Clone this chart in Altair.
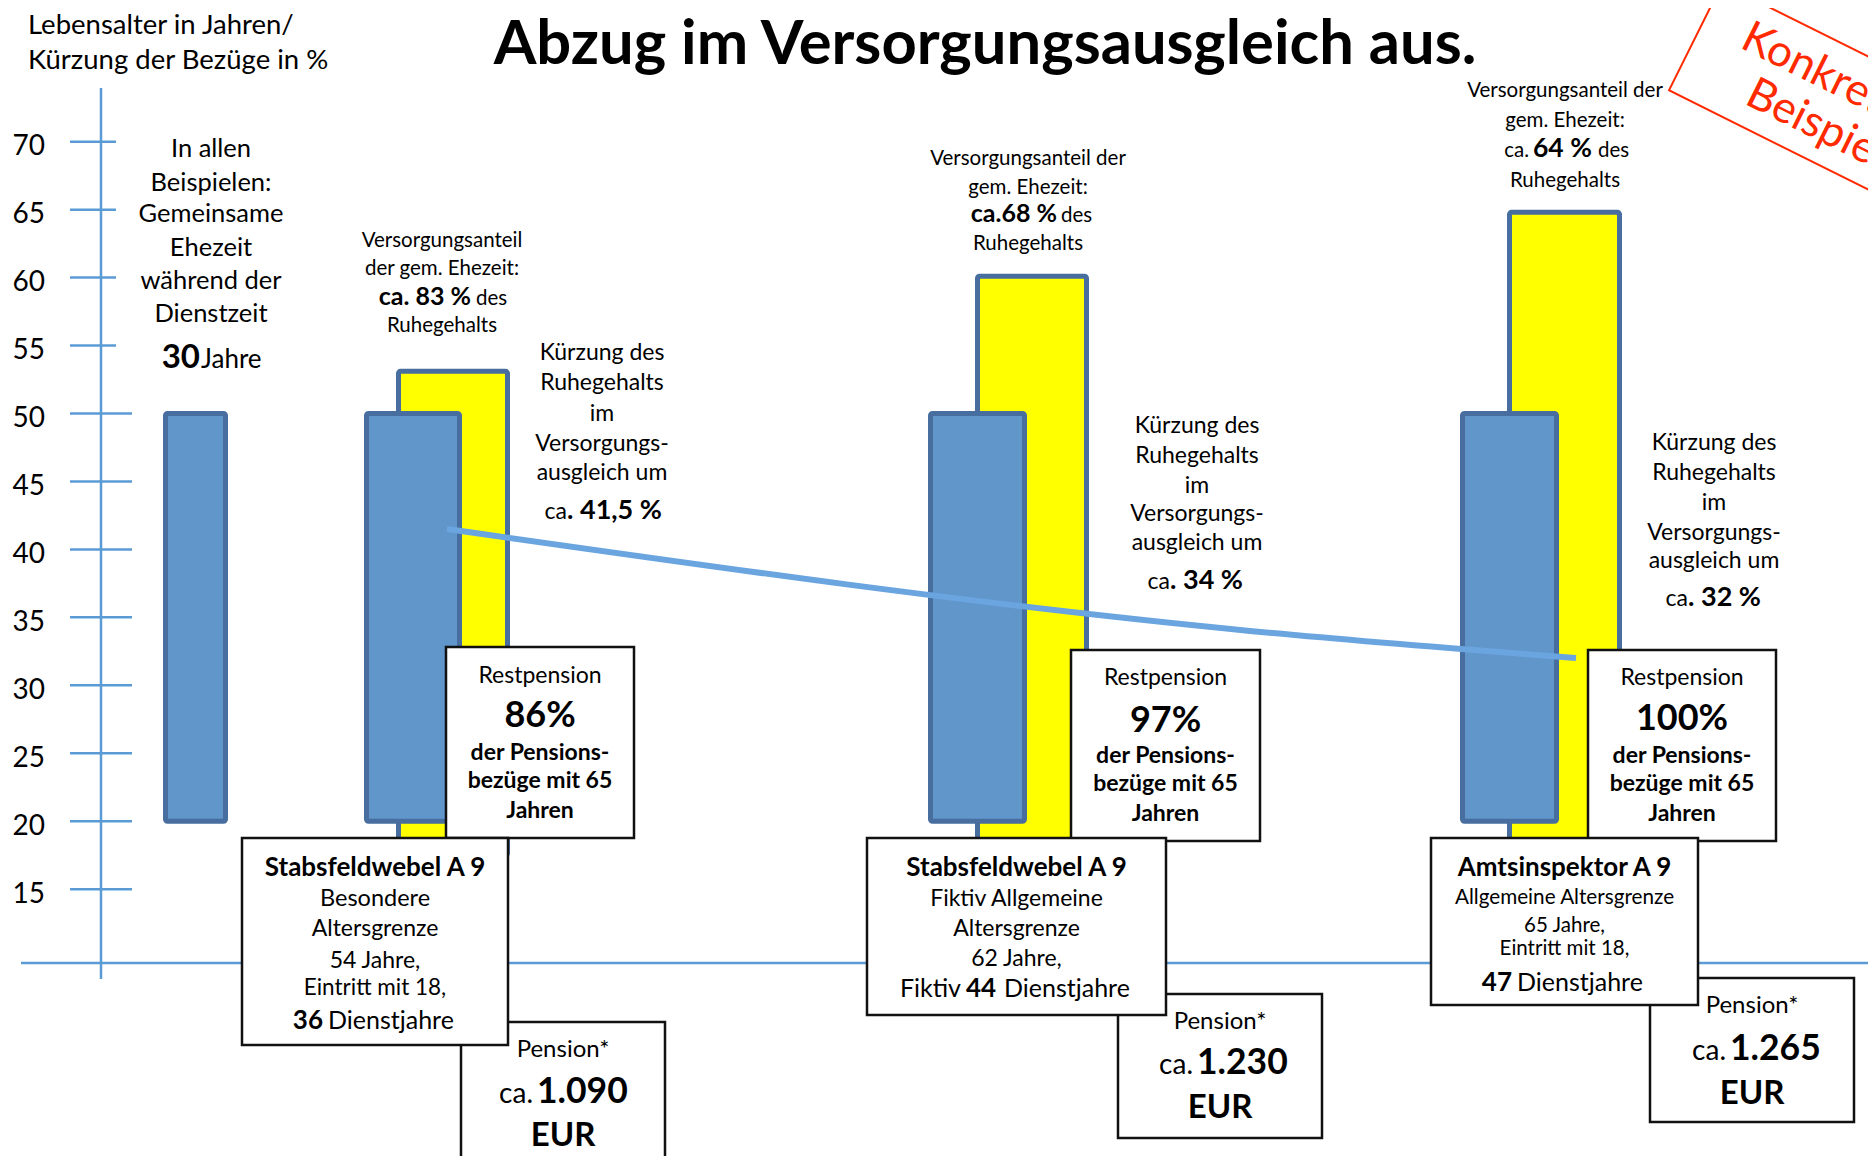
import altair as alt
import pandas as pd

# ---------------- values ----------------
y_ticks = [15, 20, 25, 30, 35, 40, 45, 50, 55, 60, 65, 70]
ehezeit_von, ehezeit_bis = 20, 50          # gemeinsame Ehezeit (Lebensalter)
ehezeit_jahre = 30
dienstzeit_oben = [53.1, 60.1, 64.8]       # top of yellow bars as drawn
titel = ["Stabsfeldwebel A 9", "Stabsfeldwebel A 9", "Amtsinspektor A 9"]
altersgrenze = [54, 62, 65]
eintritt = 18
dienstjahre = [36, 44, 47]
versorgungsanteil = [83, 68, 64]
kuerzung = [41.5, 34, 32]
restpension = [86, 97, 100]
pension_eur = [1090, 1230, 1265]

# ---------------- layout (reference pixel positions) ----------------
W, H, PAGE = 1860, 1148, 8
Y70, PX_PER_YEAR = 141.7, 13.59


def yv(ref_y):
    return 70 - (ref_y - Y70) / PX_PER_YEAR


xs = alt.Scale(domain=[PAGE, PAGE + W], nice=False, zero=False)
ys = alt.Scale(domain=[yv(PAGE + H), yv(PAGE)], nice=False, zero=False)

FONT = "Lato"
BLUE_FILL = "#6096CA"
BLUE_EDGE = "#476E9E"
AXIS_BLUE = "#5B9BD5"
LINE_BLUE = "#6AA5E0"
RED = "#FF2A00"

yaxis = alt.Axis(values=y_ticks, domain=False, ticks=False, tickSize=0, grid=False,
                 labelFont=FONT, labelFontSize=28, labelColor="black", labelAlign="left",
                 labelBaseline="middle", labelPadding=16, offset=-20, labelOffset=5, title=None)

X = alt.X("x:Q", scale=xs, axis=None)
Y = alt.Y("y:Q", scale=ys, axis=yaxis)

blue_x = [(165.5, 225.5), (366.5, 459.5), (930.5, 1024.5), (1462.5, 1556.5)]
yellow_x = [(398.5, 507.5), (977.5, 1086.5), (1509.5, 1619.5)]
yellow_bottom = 17.5
line_x = [447, 1250, 1576]

# ---------------- frames ----------------
blue_df = pd.DataFrame({"x": [a for a, b in blue_x], "x2": [b for a, b in blue_x],
                        "y": [ehezeit_bis] * 4, "y2": [ehezeit_von] * 4})
yellow_df = pd.DataFrame({"x": [a for a, b in yellow_x], "x2": [b for a, b in yellow_x],
                          "y": dienstzeit_oben, "y2": [yellow_bottom] * 3})
line_df = pd.DataFrame({"x": line_x, "y": kuerzung})

tick_df = pd.DataFrame({"y": y_ticks, "x": [70] * len(y_ticks),
                        "x2": [116 if v >= 55 else 132 for v in y_ticks]})
axis_df = pd.DataFrame({"x": [101], "y": [yv(88)], "y2": [yv(979)]})
base_df = pd.DataFrame({"x": [21], "x2": [PAGE + W], "y": [yv(963)]})

pension_box = [(461, 665, 1022, 1180), (1118, 1322, 994, 1138), (1650, 1854, 978, 1122)]
rest_box = [(446, 634, 647, 838), (1071, 1260, 650, 841), (1588, 1776, 650, 841)]
desc_box = [(242, 508, 838, 1045), (867, 1166, 838, 1015), (1431, 1698, 838, 1005)]


def box_df(boxes):
    return pd.DataFrame({"x": [b[0] for b in boxes], "x2": [b[1] for b in boxes],
                         "y": [yv(b[2]) for b in boxes], "y2": [yv(b[3]) for b in boxes]})


items = []


def T(x, yc, text, size, bold=False, align="center", lsize=None):
    ls = lsize or size
    items.append(dict(x=x, y=yv(yc + 0.34 * ls), text=text, size=size, bold=bold, halign=align))


# title and axis title
T(985, 43, "Abzug im Versorgungsausgleich aus.", 61.5, bold=True)
T(28, 25, "Lebensalter in Jahren/", 27.5, align="left")
T(28, 60, "Kürzung der Bezüge in %", 27.5, align="left")

# common block
for t, yy in zip(["In allen", "Beispielen:", "Gemeinsame", "Ehezeit", "während der", "Dienstzeit"],
                 [148, 182, 213, 247, 280, 313]):
    T(211, yy, t, 25.5)
T(200, 358, str(ehezeit_jahre), 33, bold=True, align="right", lsize=28)
T(201, 358, "Jahre", 26, align="left", lsize=28)


def de(v):
    return f"{v:g}".replace(".", ",")


# top annotations
A = 20.5
T(442, 240, "Versorgungsanteil", A)
T(442, 268, "der gem. Ehezeit:", A)
T(471, 298, f"ca. {versorgungsanteil[0]} %", 25, bold=True, align="right", lsize=22)
T(476, 298, "des", A, align="left", lsize=22)
T(442, 325, "Ruhegehalts", A)

T(1028, 158, "Versorgungsanteil der", A)
T(1028, 187, "gem. Ehezeit:", A)
T(1057, 215, f"ca.{versorgungsanteil[1]} %", 25, bold=True, align="right", lsize=22)
T(1061, 215, "des", A, align="left", lsize=22)
T(1028, 243, "Ruhegehalts", A)

T(1565, 90, "Versorgungsanteil der", A)
T(1565, 120, "gem. Ehezeit:", A)
T(1529, 150, "ca.", A, align="right", lsize=22)
T(1533, 150, f"{versorgungsanteil[2]} %", 26.5, bold=True, align="left", lsize=22)
T(1598, 150, "des", A, align="left", lsize=22)
T(1565, 180, "Ruhegehalts", A)

# Kürzung blocks
k_cx = [602, 1197, 1714]
k_y = [[352, 382, 413, 443, 472, 510], [425, 455, 485, 513, 542, 580], [442, 472, 502, 532, 560, 597]]
k_split = [567, 1170, 1688]
for i in range(3):
    for t, yy in zip(["Kürzung des", "Ruhegehalts", "im", "Versorgungs-", "ausgleich um"], k_y[i][:5]):
        T(k_cx[i], yy, t, 23)
    T(k_split[i], k_y[i][5], "ca", 23, align="right", lsize=26)
    T(k_split[i], k_y[i][5], f". {de(kuerzung[i])} %", 27, bold=True, align="left", lsize=26)

# Restpension boxes
r_cx = [540, 1165.5, 1682]
r_y = [[675, 715, 752, 780, 810], [677, 720, 755, 783, 813], [677, 718, 755, 783, 813]]
for i in range(3):
    T(r_cx[i], r_y[i][0], "Restpension", 23)
    T(r_cx[i], r_y[i][1], f"{restpension[i]}%", 36, bold=True)
    T(r_cx[i], r_y[i][2], "der Pensions-", 23, bold=True)
    T(r_cx[i], r_y[i][3], "bezüge mit 65", 23, bold=True)
    T(r_cx[i], r_y[i][4], "Jahren", 23, bold=True)

# description boxes
T(375, 867, titel[0], 26, bold=True)
T(375, 898, "Besondere", 23.5)
T(375, 928, "Altersgrenze", 23)
T(375, 960, f"{altersgrenze[0]} Jahre,", 23)
T(375, 987, f"Eintritt mit {eintritt},", 22.5)
T(323, 1020, str(dienstjahre[0]), 26, bold=True, align="right", lsize=25)
T(328, 1020, "Dienstjahre", 25, align="left", lsize=25)

T(1016.5, 867, titel[1], 26, bold=True)
T(1016.5, 898, "Fiktiv Allgemeine", 23)
T(1016.5, 928, "Altersgrenze", 23)
T(1016.5, 958, f"{altersgrenze[1]} Jahre,", 23)
T(961, 988, "Fiktiv", 25, align="right", lsize=25)
T(966, 988, str(dienstjahre[1]), 26, bold=True, align="left", lsize=25)
T(1004, 988, "Dienstjahre", 25, align="left", lsize=25)

T(1564.5, 867, titel[2], 26, bold=True)
T(1564.5, 897, "Allgemeine Altersgrenze", 20.7)
T(1564.5, 925, f"{altersgrenze[2]} Jahre,", 20.5)
T(1564.5, 948, f"Eintritt mit {eintritt},", 20.5)
T(1512, 982, str(dienstjahre[2]), 26, bold=True, align="right", lsize=25)
T(1517, 982, "Dienstjahre", 25, align="left", lsize=25)

# pension boxes
p_cx = [563, 1220, 1752]
p_y = [[1049, 1092, 1135], [1021, 1063, 1107], [1005, 1049, 1093]]
p_split = [535, 1195, 1728]
for i in range(3):
    T(p_cx[i], p_y[i][0], "Pension*", 24)
    T(p_split[i] - 2, p_y[i][1], "ca.", 28, align="right", lsize=31)
    T(p_split[i] + 2, p_y[i][1], f"{pension_eur[i]:,}".replace(",", "."), 35.5, bold=True,
      align="left", lsize=31)
    T(p_cx[i], p_y[i][2], "EUR", 33, bold=True)

text_df = pd.DataFrame(items)

stamp_df = pd.DataFrame({"x": [1824], "y": [yv(101)]})
stamp_text_df = pd.DataFrame({"x": [1832, 1816], "y": [yv(79), yv(125)],
                              "text": ["Konkretes", "Beispiel"]})

# ---------------- layers ----------------
base = alt.Chart(base_df).mark_rule(color=AXIS_BLUE, strokeWidth=2.5).encode(
    x=X, x2="x2:Q", y=Y)
axis_line = alt.Chart(axis_df).mark_rule(color=AXIS_BLUE, strokeWidth=2.5).encode(
    x=X, y=Y, y2="y2:Q")
ticks = alt.Chart(tick_df).mark_rule(color=AXIS_BLUE, strokeWidth=2.5).encode(
    x=X, x2="x2:Q", y=Y)

yellow = alt.Chart(yellow_df).mark_rect(fill="#FFFF00", stroke=BLUE_EDGE, strokeWidth=5,
                                        cornerRadius=2).encode(x=X, x2="x2:Q", y=Y, y2="y2:Q")
blue = alt.Chart(blue_df).mark_rect(fill=BLUE_FILL, stroke=BLUE_EDGE, strokeWidth=5,
                                    cornerRadius=2).encode(x=X, x2="x2:Q", y=Y, y2="y2:Q")
trend = alt.Chart(line_df).mark_line(color=LINE_BLUE, strokeWidth=6, interpolate="monotone",
                                     strokeCap="butt").encode(x=X, y=Y)


def boxes(df):
    return alt.Chart(df).mark_rect(fill="white", stroke="#111111", strokeWidth=2.5).encode(
        x=X, x2="x2:Q", y=Y, y2="y2:Q")


def text_layer(bold, align):
    sub = text_df[(text_df["bold"] == bold) & (text_df["halign"] == align)]
    sub = sub[["x", "y", "text", "size"]].reset_index(drop=True)
    return alt.Chart(sub).mark_text(font=FONT, fontWeight="bold" if bold else "normal",
                                    align=align, baseline="alphabetic", color="black").encode(
        x=X, y=Y, text="text:N", size=alt.Size("size:Q", scale=None, legend=None))


texts = [text_layer(b, a) for b in (False, True) for a in ("left", "center", "right")]

stamp_box = alt.Chart(stamp_df).mark_point(
    shape="M-1,-0.4146L1,-0.4146L1,0.4146L-1,0.4146Z", size=287 * 287, angle=26.5,
    filled=False, stroke=RED, strokeWidth=2, opacity=1).encode(x=X, y=Y)
stamp_text = alt.Chart(stamp_text_df).mark_text(
    font=FONT, fontSize=44, color=RED, angle=26.5, align="center", baseline="middle").encode(
    x=X, y=Y, text="text:N")

chart = alt.layer(
    base, axis_line, ticks, yellow, blue, trend,
    boxes(box_df(pension_box)), boxes(box_df(rest_box)), boxes(box_df(desc_box)),
    *texts, stamp_box, stamp_text,
).properties(
    width=W, height=H, padding=0, autosize=alt.AutoSizeParams(type="none"),
    background="white",
).configure_view(stroke=None)

chart.save("out.html", embed_options={"renderer": "svg", "actions": False})
